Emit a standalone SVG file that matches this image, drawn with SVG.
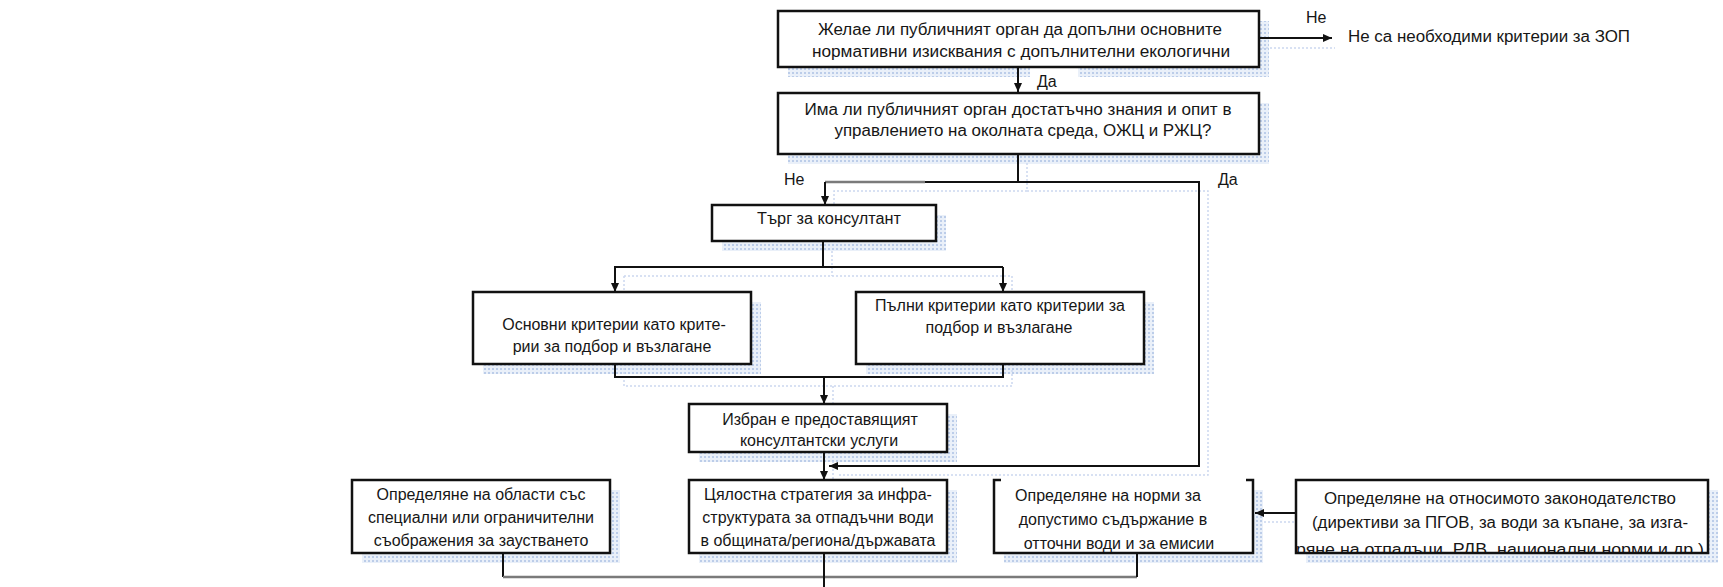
<svg xmlns="http://www.w3.org/2000/svg" width="1723" height="587" viewBox="0 0 1723 587">
  <style>
    .box { fill: #ffffff; stroke: #111111; stroke-width: 2.5; }
    .frame { fill: none; stroke: #111111; stroke-width: 2.5; }
    .shadow { fill: url(#dots); }
    .t { font-family: "Liberation Sans", Arial, sans-serif; font-size: 16px; fill: #161616; text-anchor: middle; }
    .ts { font-family: "Liberation Sans", Arial, sans-serif; font-size: 16px; fill: #161616; }
    .line { fill: none; stroke: #111111; stroke-width: 2; }
    .grey { fill: none; stroke: #7a7a7a; stroke-width: 2.5; }
    .ghost { fill: none; stroke: #ccd8ef; stroke-width: 1.5; stroke-dasharray: 2 2; }
  </style>
  <defs>
    <pattern id="dots" width="4" height="4" patternUnits="userSpaceOnUse">
      <rect width="4" height="4" fill="#eaf0f9"/>
      <rect width="2" height="2" fill="#bccde9"/>
    </pattern>
    <marker id="arrow" markerUnits="userSpaceOnUse" markerWidth="10" markerHeight="10" refX="9" refY="4" orient="auto">
      <path d="M0,0 L9,4 L0,8 z" fill="#111111"/>
    </marker>
    <clipPath id="clipD">
      <rect x="1296" y="480" width="412" height="72"/>
    </clipPath>
  </defs>

  <rect width="1723" height="587" fill="#ffffff"/>

  <!-- drop shadows of the boxes -->
  <g id="shadows">
    <rect class="shadow" x="788" y="21" width="481" height="56"/>
    <rect class="shadow" x="788" y="103" width="481" height="61"/>
    <rect class="shadow" x="722" y="215" width="224" height="36"/>
    <rect class="shadow" x="483" y="302" width="278" height="72"/>
    <rect class="shadow" x="866" y="302" width="288" height="72"/>
    <rect class="shadow" x="699" y="414" width="258" height="48"/>
    <rect class="shadow" x="362" y="490" width="258" height="73"/>
    <rect class="shadow" x="699" y="490" width="258" height="73"/>
    <rect class="shadow" x="1004" y="490" width="259" height="73"/>
    <rect class="shadow" x="1306" y="490" width="412" height="73"/>
  </g>

  <!-- faint shadows of the connectors -->
  <g id="connector-shadows">
    <path class="ghost" d="M1262,48 H1335"/>
    <path class="ghost" d="M1027,163 V191 H834 V214 M1027,191 H1208 V475 H837"/>
    <path class="ghost" d="M832,251 V276 M624,276 H1012 V301 M624,276 V301"/>
    <path class="ghost" d="M624,368 V386 H1012 V368 M833,386 V413"/>
    <path class="ghost" d="M833,461 V489"/>
    <path class="ghost" d="M1306,522 H1264"/>
  </g>

  <!-- connectors -->
  <g id="connectors">
    <path class="line" d="M1259,38 H1332" marker-end="url(#arrow)"/>
    <rect x="1030" y="68" width="48" height="12" fill="#ffffff"/>
    <path class="line" d="M1018,67 V92" marker-end="url(#arrow)"/>
    <path class="line" d="M1018,154 V182 H925"/>
    <path class="grey" d="M925,182 H825"/>
    <path class="line" d="M825,182 V205" marker-end="url(#arrow)"/>
    <path class="line" d="M1018,182 H1199 V466 H829" marker-end="url(#arrow)"/>
    <path class="line" d="M823,241 V267 M614,267 H1003"/>
    <path class="line" d="M615,267 V292" marker-end="url(#arrow)"/>
    <path class="line" d="M1003,267 V292" marker-end="url(#arrow)"/>
    <path class="line" d="M615,356 V377 H1003 V356"/>
    <path class="line" d="M824,377 V404" marker-end="url(#arrow)"/>
    <path class="line" d="M824,452 V480" marker-end="url(#arrow)"/>
    <path class="line" d="M1297,513 H1255" marker-end="url(#arrow)"/>
    <path class="line" d="M503,553 V577"/>
    <path class="grey" d="M503,577 H1137"/>
    <path class="line" d="M1137,577 V553"/>
    <path class="line" d="M824,553 V587"/>
  </g>

  <!-- edge labels -->
  <g id="labels">
    <text class="ts" x="1306" y="23">Не</text>
    <text class="ts" x="1348" y="42" textLength="282" lengthAdjust="spacingAndGlyphs">Не са необходими критерии за ЗОП</text>
    <text class="ts" x="1037" y="87">Да</text>
    <text class="ts" x="784" y="185">Не</text>
    <text class="ts" x="1218" y="185">Да</text>
  </g>

  <g id="q-extra-criteria">
    <rect class="box" x="778" y="11" width="481" height="56"/>
    <text class="t" x="1020" y="35" textLength="404" lengthAdjust="spacingAndGlyphs">Желае ли публичният орган да допълни основните</text>
    <text class="t" x="1021" y="57" textLength="418" lengthAdjust="spacingAndGlyphs">нормативни изисквания с допълнителни екологични</text>
  </g>

  <g id="q-expertise">
    <rect class="box" x="778" y="93" width="481" height="61"/>
    <text class="t" x="1018" y="115" textLength="427" lengthAdjust="spacingAndGlyphs">Има ли публичният орган достатъчно знания и опит в</text>
    <text class="t" x="1023" y="136" textLength="377" lengthAdjust="spacingAndGlyphs">управлението на околната среда, ОЖЦ и РЖЦ?</text>
  </g>

  <g id="tender">
    <rect class="box" x="712" y="205" width="224" height="36"/>
    <text class="t" x="829" y="224" textLength="144" lengthAdjust="spacingAndGlyphs">Търг за консултант</text>
  </g>

  <g id="basic-criteria">
    <rect class="box" x="473" y="292" width="278" height="72"/>
    <text class="t" x="614" y="330">Основни критерии като крите-</text>
    <text class="t" x="612" y="352">рии за подбор и възлагане</text>
  </g>

  <g id="full-criteria">
    <rect class="box" x="856" y="292" width="288" height="72"/>
    <text class="t" x="1000" y="311">Пълни критерии като критерии за</text>
    <text class="t" x="999" y="333">подбор и възлагане</text>
  </g>

  <g id="consultant-selected">
    <rect class="box" x="689" y="404" width="258" height="48"/>
    <text class="t" x="820" y="425">Избран е предоставящият</text>
    <text class="t" x="819" y="446">консултантски услуги</text>
  </g>

  <g id="special-areas">
    <rect class="box" x="352" y="480" width="258" height="73"/>
    <text class="t" x="481" y="500">Определяне на области със</text>
    <text class="t" x="481" y="523">специални или ограничителни</text>
    <text class="t" x="481" y="546">съображения за заустването</text>
  </g>

  <g id="strategy">
    <rect class="box" x="689" y="480" width="258" height="73"/>
    <text class="t" x="818" y="500">Цялостна стратегия за инфра-</text>
    <text class="t" x="818" y="523">структурата за отпадъчни води</text>
    <text class="t" x="818" y="546">в общината/региона/държавата</text>
  </g>

  <g id="emission-norms">
    <rect x="994" y="480" width="259" height="73" fill="#ffffff"/>
    <path class="frame" d="M1001,480 H994 V553 H1253 V480 H1246"/>
    <text class="t" x="1108" y="501">Определяне на норми за</text>
    <text class="t" x="1113" y="525">допустимо съдържание в</text>
    <text class="t" x="1119" y="549">отточни води и за емисии</text>
  </g>

  <g id="legislation">
    <rect x="1296" y="480" width="412" height="73" fill="#ffffff"/>
    <g clip-path="url(#clipD)">
      <text class="t" x="1500" y="504" textLength="352" lengthAdjust="spacingAndGlyphs">Определяне на относимото законодателство</text>
      <text class="t" x="1500" y="528" textLength="376" lengthAdjust="spacingAndGlyphs">(директиви за ПГОВ, за води за къпане, за изга-</text>
      <text class="t" x="1500" y="555" textLength="408" lengthAdjust="spacingAndGlyphs">ряне на отпадъци, РДВ, национални норми и др.)</text>
    </g>
    <rect class="frame" x="1296" y="480" width="412" height="73"/>
  </g>
</svg>
